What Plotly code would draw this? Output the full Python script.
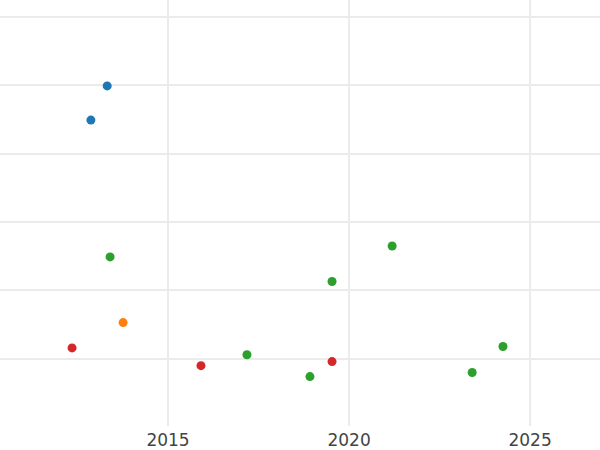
import plotly.graph_objects as go

# Data (x in decimal years, y in arbitrary units)
blue_x = [2013.32, 2012.87]
blue_y = [3.99, 3.49]
green_x = [2013.40, 2021.19, 2019.53, 2017.18, 2018.92, 2023.40, 2024.25]
green_y = [1.49, 1.65, 1.13, 0.06, -0.26, -0.20, 0.18]
orange_x = [2013.76]
orange_y = [0.53]
red_x = [2012.35, 2015.91, 2019.53]
red_y = [0.16, -0.10, -0.04]

x_ticks = [2015, 2020, 2025]
x_tick_labels = ["2015", "2020", "2025"]
y_ticks = [-1, 0, 1, 2, 3, 4, 5]

series = [
    (blue_x, blue_y, "#1f77b4"),
    (green_x, green_y, "#2ca02c"),
    (orange_x, orange_y, "#ff7f0e"),
    (red_x, red_y, "#d62728"),
]

fig = go.Figure()
for xs, ys, c in series:
    fig.add_trace(go.Scatter(x=xs, y=ys, mode="markers",
                             marker=dict(color=c, size=9),
                             showlegend=False))

fig.update_layout(
    width=600, height=450,
    margin=dict(l=0, r=0, t=0, b=24),
    paper_bgcolor="white", plot_bgcolor="white",
    font=dict(family="DejaVu Sans", size=17, color="#444"),
    showlegend=False,
)
fig.update_xaxes(range=[2010.36, 2026.93], tickvals=x_ticks, ticktext=x_tick_labels,
                 showgrid=True, gridcolor="#ebebeb", gridwidth=1.5,
                 zeroline=False, showline=False, ticks="", ticklabelstandoff=2)
fig.update_yaxes(range=[-0.982, 5.246], tickvals=y_ticks, showticklabels=False,
                 showgrid=True, gridcolor="#ebebeb", gridwidth=1.5,
                 zeroline=False, showline=False, ticks="")

fig.write_html("out.html", config={"displayModeBar": False},
               post_script="document.body.style.margin='0';document.body.style.overflow='hidden';")
